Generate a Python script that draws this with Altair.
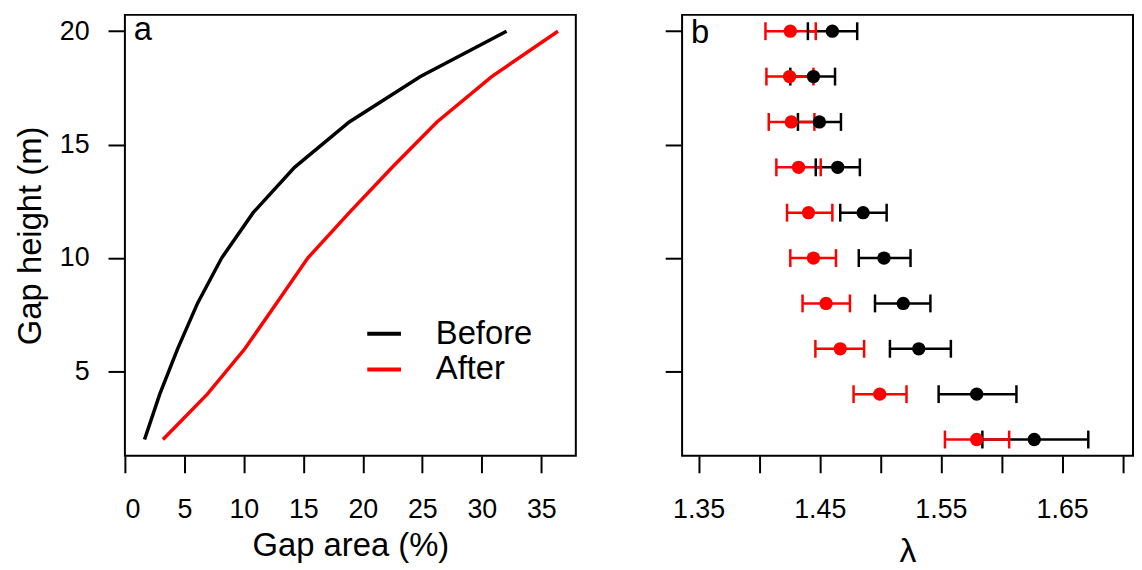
import altair as alt
import pandas as pd

FONT = "Liberation Sans"

# ---- data ----
heights = [2, 4, 6, 8, 10, 12, 14, 16, 18, 20]
periods = ["Before", "After"]
panel_labels = ["a", "b"]

area_before = [1.65, 2.93, 4.43, 6.10, 8.13, 10.78, 14.26, 18.86, 24.84, 32.08]
area_after = [3.20, 6.93, 10.08, 12.73, 15.37, 18.86, 22.47, 26.23, 30.83, 36.40]

lam_before = [1.6270, 1.5795, 1.5317, 1.5189, 1.5030, 1.4858, 1.4648, 1.4497, 1.4448, 1.4604]
lam_before_lo = [1.5842, 1.5481, 1.5079, 1.4956, 1.4822, 1.4669, 1.4467, 1.4320, 1.4257, 1.4402]
lam_before_hi = [1.6716, 1.6123, 1.5582, 1.5413, 1.5249, 1.5052, 1.4831, 1.4675, 1.4626, 1.4809]

lam_after = [1.5795, 1.4995, 1.4669, 1.4552, 1.4448, 1.4407, 1.4325, 1.4265, 1.4251, 1.4257]
lam_after_lo = [1.5533, 1.4779, 1.4464, 1.4358, 1.4257, 1.4230, 1.4142, 1.4079, 1.4060, 1.4052]
lam_after_hi = [1.6063, 1.5216, 1.4866, 1.4749, 1.4634, 1.4604, 1.4508, 1.4456, 1.4448, 1.4467]

x_ticks_a = [0, 5, 10, 15, 20, 25, 30, 35]
x_ticks_b = [1.35, 1.40, 1.45, 1.50, 1.55, 1.60, 1.65, 1.70]
y_ticks = [5, 10, 15, 20]

# ---- tables ----
lines_df = pd.DataFrame({
    "height": heights * 2,
    "area": area_before + area_after,
    "period": ["Before"] * len(heights) + ["After"] * len(heights),
})

def lam_df(mean, lo, hi):
    return pd.DataFrame({"height": heights, "lam": mean, "lo": lo, "hi": hi})

def cap_df(lo, hi):
    return pd.DataFrame({"height": heights * 2, "x": lo + hi})

bef = lam_df(lam_before, lam_before_lo, lam_before_hi)
aft = lam_df(lam_after, lam_after_lo, lam_after_hi)
bef_caps = cap_df(lam_before_lo, lam_before_hi)
aft_caps = cap_df(lam_after_lo, lam_after_hi)

W, H = 454, 444
YDOM = [1.28, 20.72]
XDOM_A = [0, 37.9]
XDOM_B = [1.3364, 1.7085]

def panel_label(text, dy):
    return alt.Chart(pd.DataFrame({"label": [text]})).mark_text(
        align="left", baseline="alphabetic", fontSize=33, font=FONT, color="black"
    ).encode(x=alt.value(9), y=alt.value(dy), text="label:N")

y_left = alt.Y("height:Q", scale=alt.Scale(domain=YDOM, nice=False, zero=False),
               axis=alt.Axis(values=y_ticks, title="Gap height (m)", format="d",
                             titlePadding=11.6))
x_left = alt.X("area:Q", scale=alt.Scale(domain=XDOM_A, nice=False, zero=False),
               axis=alt.Axis(values=x_ticks_a, title="Gap area (%)", format="d",
                             titlePadding=7))

lines = alt.Chart(lines_df).mark_line(strokeWidth=3.5).encode(
    x=x_left,
    y=y_left,
    order=alt.Order("height:Q"),
    color=alt.Color("period:N",
                    scale=alt.Scale(domain=periods, range=["black", "red"]),
                    legend=alt.Legend(title=None, orient="none", legendX=242, legendY=302,
                                      symbolType="stroke", symbolSize=1156,
                                      symbolStrokeWidth=4, labelFontSize=33,
                                      labelFont=FONT, labelOffset=33, rowPadding=0,
                                      padding=0, labelColor="black", symbolOpacity=1)),
)

left = alt.layer(lines, panel_label(panel_labels[0], 25.3)).properties(width=W, height=H)

y_right = alt.Y("height:Q", scale=alt.Scale(domain=YDOM, nice=False, zero=False),
                axis=alt.Axis(values=y_ticks, labels=False, title=None))
x_scale_b = alt.Scale(domain=XDOM_B, nice=False, zero=False)
x_axis_b = alt.Axis(values=x_ticks_b, title="λ", titlePadding=12, titleFontSize=34,
                    labelExpr="(round(datum.value*100) % 10 == 5) ? format(datum.value, '.2f') : ''")

def bars(df, colour):
    return alt.Chart(df).mark_rule(strokeWidth=2.5, color=colour).encode(
        x=alt.X("lo:Q", scale=x_scale_b, axis=x_axis_b), x2="hi:Q", y=y_right)

def caps(df, colour):
    return alt.Chart(df).mark_tick(orient="vertical", size=18, thickness=2.5,
                                   color=colour, opacity=1).encode(
        x=alt.X("x:Q", scale=x_scale_b, axis=x_axis_b), y=y_right)

def pts(df, colour):
    return alt.Chart(df).mark_circle(size=180, opacity=1, color=colour).encode(
        x=alt.X("lam:Q", scale=x_scale_b, axis=x_axis_b), y=y_right)

right = alt.layer(
    bars(bef, "black"), bars(aft, "red"),
    caps(bef_caps, "black"), caps(aft_caps, "red"),
    pts(aft, "red"), pts(bef, "black"),
    panel_label(panel_labels[1], 28),
).properties(width=W, height=H)

chart = alt.hconcat(left, right, spacing=87).properties(
    padding={"left": 5.7, "top": 3, "right": 0, "bottom": 0},
).configure_view(
    stroke="black", strokeWidth=2,
).configure_axis(
    domain=False, grid=False, tickColor="black", tickWidth=2, tickSize=17,
    labelFont=FONT, labelFontSize=27, labelColor="black", labelPadding=24,
    titleFont=FONT, titleFontSize=33, titleFontWeight="normal", titleColor="black",
).configure_axisY(
    labelPadding=19,
)

chart.save("out.html", embed_options={"renderer": "svg", "actions": False})
